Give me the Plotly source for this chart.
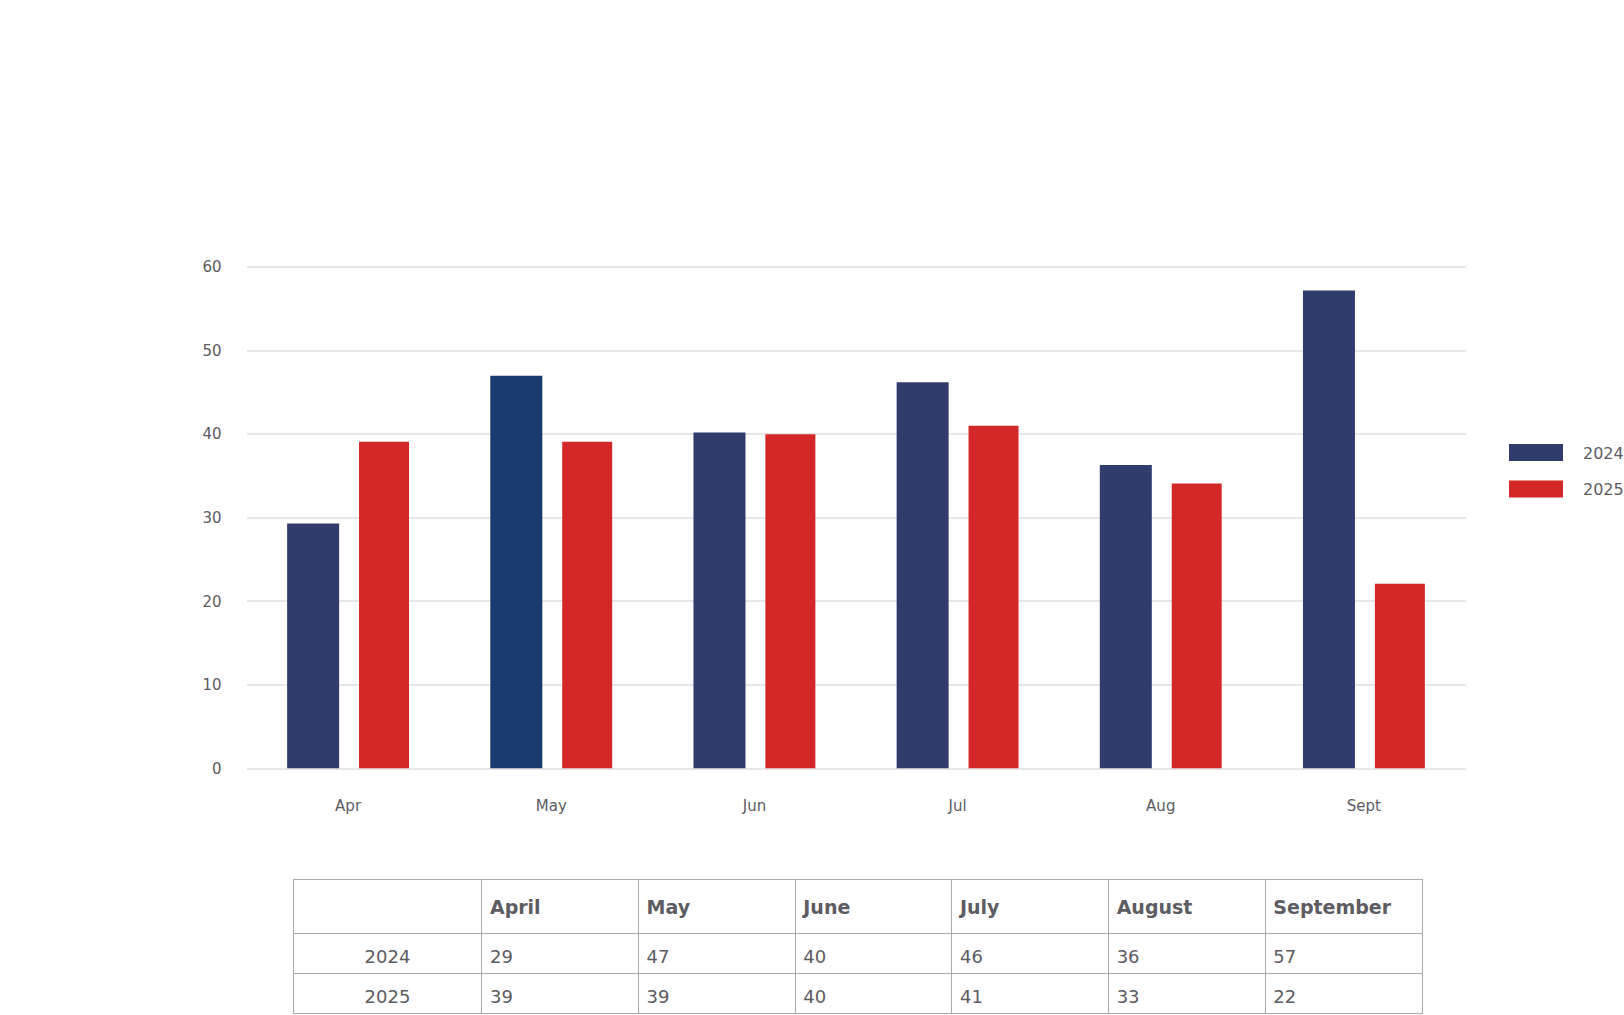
import plotly.graph_objects as go

# ---- data ----
months = ["Apr", "May", "Jun", "Jul", "Aug", "Sept"]
values_2024 = [29.3, 47.0, 40.2, 46.2, 36.3, 57.2]
values_2025 = [39.1, 39.1, 40.0, 41.0, 34.1, 22.1]

table_months = ["April", "May", "June", "July", "August", "September"]
table_2024 = [29, 47, 40, 46, 36, 57]
table_2025 = [39, 39, 40, 41, 33, 22]
series_names = ["2024", "2025"]

# ---- styles ----
W, H = 1624, 1015
FONT = "DejaVu Sans"
TXT = "#5c5c62"
C2024 = "#303c6c"
C2024_MAY = "#1a3b6d"
C2025 = "#d42727"
colors_2024 = [C2024_MAY if m == "May" else C2024 for m in months]
CLEAR = "rgba(0,0,0,0)"

def px_x(p):
    return p / W

def px_y(p):
    return 1 - p / H

Y_TOP = 60.3
Y0_PX, Y60_PX = 768.5, 267.0
ytop_px = Y0_PX - (Y0_PX - Y60_PX) * Y_TOP / 60

fig = go.Figure()
fig.add_bar(x=months, y=values_2024, name=series_names[0], marker_color=colors_2024,
            width=0.256, offset=-0.3, showlegend=False, marker_line_width=0)
fig.add_bar(x=months, y=values_2025, name=series_names[1], marker_color=C2025,
            width=0.246, offset=0.054, showlegend=False, marker_line_width=0)

# ---- table ----
TBL_X = [px_x(293), px_x(1422)]
COLW = [188.6] + [156.4] * 6
TBL_TOP = 879
HEAD_H, ROW_H = 54, 40

# grid (lines only)
fig.add_table(
    domain=dict(x=TBL_X, y=[px_y(1014.5), px_y(TBL_TOP)]),
    columnwidth=COLW,
    header=dict(values=[""] * 7, height=HEAD_H, fill_color="white",
                line=dict(color="#a9a9a9", width=1)),
    cells=dict(values=[["", ""]] * 7, height=ROW_H, fill_color="white",
               line=dict(color="#a9a9a9", width=1)),
)

# text rows, vertically centred within the grid rows
header_vals = [""] + ["<b>%s</b>" % m for m in table_months]
row_vals = [
    [series_names[0]] + [str(v) for v in table_2024],
    [series_names[1]] + [str(v) for v in table_2025],
]
rows = [(header_vals, TBL_TOP, HEAD_H, 9.0, 19, ["left"] * 7)]
for i, vals in enumerate(row_vals):
    rows.append((vals, TBL_TOP + HEAD_H + i * ROW_H, ROW_H, 8.5, 18, ["center"] + ["left"] * 6))

for vals, top, h, shift, fsize, al in rows:
    t = top + shift
    hh = min(h, H - t)
    fig.add_table(
        domain=dict(x=TBL_X, y=[px_y(t + hh), px_y(t)]),
        columnwidth=COLW,
        header=dict(values=vals, height=hh, align=al, fill_color=CLEAR,
                    line=dict(color=CLEAR, width=0),
                    font=dict(family=FONT, size=fsize, color=TXT)),
        cells=dict(values=[], fill_color=CLEAR, line=dict(color=CLEAR, width=0)),
    )

# legend drawn manually (wide swatches)
shapes = []
annotations = []
for i, (name, col) in enumerate(zip(series_names, [C2024, C2025])):
    top = 444 + i * 36.5
    shapes.append(dict(type="rect", xref="paper", yref="paper",
                       x0=px_x(1509), x1=px_x(1563), y0=px_y(top), y1=px_y(top + 17),
                       fillcolor=col, line=dict(width=0)))
    annotations.append(dict(xref="paper", yref="paper", x=px_x(1581), y=px_y(top + 9),
                            text=name, showarrow=False, xanchor="left", yanchor="middle",
                            font=dict(family=FONT, size=16, color=TXT)))

fig.update_layout(
    width=W, height=H,
    margin=dict(l=0, r=0, t=0, b=0, autoexpand=False),
    paper_bgcolor="white", plot_bgcolor="white",
    font=dict(family=FONT, color=TXT),
    barmode="group",
    shapes=shapes, annotations=annotations,
    xaxis=dict(domain=[px_x(246.5), px_x(1465.5)], range=[-0.5, 5.5], automargin=False,
               showgrid=False, showline=False, zeroline=False, ticks="",
               tickfont=dict(family=FONT, size=15, color=TXT), ticklabelstandoff=26),
    yaxis=dict(domain=[px_y(Y0_PX), px_y(ytop_px)], range=[0, Y_TOP], dtick=10,
               automargin=False,
               showgrid=True, gridcolor="#e7e7e7", gridwidth=2,
               zeroline=True, zerolinecolor="#e7e7e7", zerolinewidth=2,
               showline=False, ticks="",
               tickfont=dict(family=FONT, size=15, color=TXT), ticklabelstandoff=24),
)

fig.write_html("out.html", config={"displayModeBar": False},
               post_script="document.body.style.margin='0';document.body.style.overflow='hidden';")
